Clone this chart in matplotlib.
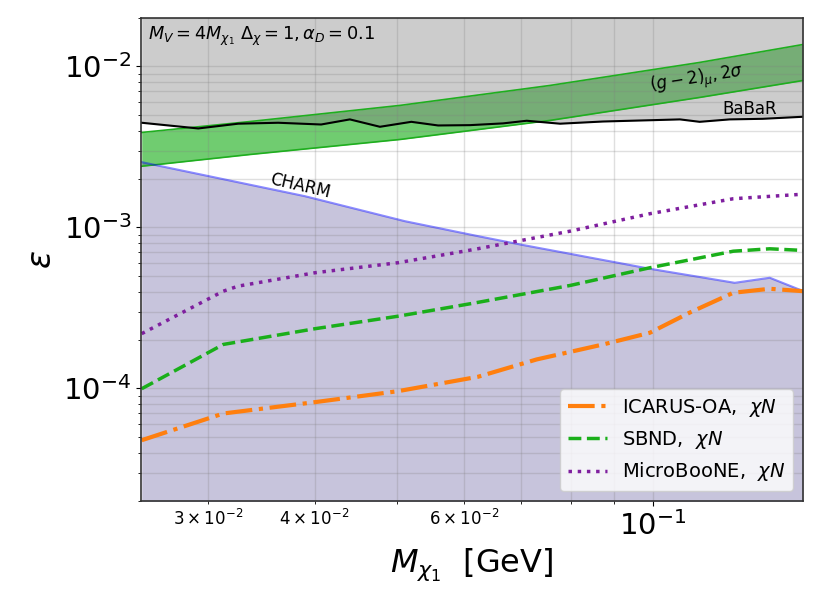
import matplotlib
matplotlib.use('Agg')
import matplotlib.pyplot as plt
import numpy as np

# BaBaR limit (upper excluded region)
babar_x = [0.02505, 0.02919, 0.03252, 0.03624, 0.04071, 0.04400, 0.04773, 0.05196,
           0.05587, 0.06091, 0.06661, 0.07101, 0.07772, 0.08727, 0.1000, 0.1075,
           0.1134, 0.1230, 0.1345, 0.1500]
babar_y = [4.47e-3, 4.12e-3, 4.41e-3, 4.47e-3, 4.36e-3, 4.69e-3, 4.22e-3, 4.53e-3,
           4.30e-3, 4.32e-3, 4.43e-3, 4.60e-3, 4.41e-3, 4.55e-3, 4.64e-3, 4.69e-3,
           4.53e-3, 4.69e-3, 4.73e-3, 4.87e-3]

# (g-2)_mu 2 sigma band
g2_x = [0.02505, 0.03360, 0.05041, 0.07561, 0.1134, 0.1500]
g2_hi = [3.89e-3, 4.55e-3, 5.73e-3, 7.62e-3, 1.059e-2, 1.369e-2]
g2_lo = [2.40e-3, 2.84e-3, 3.52e-3, 4.62e-3, 6.42e-3, 8.18e-3]

# CHARM limit (lower excluded region)
charm_x = [0.02505, 0.03896, 0.05106, 0.06225, 0.06977, 0.0991, 0.1247, 0.1371, 0.1500]
charm_y = [2.544e-3, 1.564e-3, 1.094e-3, 8.83e-4, 7.84e-4, 5.54e-4, 4.53e-4, 4.87e-4, 4.03e-4]

# projected sensitivities
ub_x = [0.02505, 0.03124, 0.03252, 0.04002, 0.05013, 0.06157, 0.07983, 0.0991, 0.1242, 0.1484]
ub_y = [2.19e-4, 4.02e-4, 4.32e-4, 5.23e-4, 6.04e-4, 7.30e-4, 9.48e-4, 1.217e-3, 1.508e-3, 1.603e-3]

sbnd_x = [0.02505, 0.03124, 0.04002, 0.05013, 0.06157, 0.07983, 0.0991, 0.1242, 0.1371, 0.1500]
sbnd_y = [9.96e-5, 1.877e-4, 2.349e-4, 2.81e-4, 3.39e-4, 4.36e-4, 5.62e-4, 7.12e-4, 7.37e-4, 7.20e-4]

icarus_x = [0.02505, 0.03124, 0.04002, 0.05013, 0.06225, 0.07294, 0.08735, 0.0991, 0.1104,
            0.1242, 0.1371, 0.1500]
icarus_y = [4.77e-5, 6.99e-5, 8.22e-5, 9.62e-5, 1.182e-4, 1.514e-4, 1.877e-4, 2.218e-4, 2.96e-4,
            3.93e-4, 4.16e-4, 4.02e-4]

fig = plt.figure(figsize=(8.22, 6.16), dpi=100)
ax = fig.add_subplot(111)
fig.subplots_adjust(left=0.1715, right=0.9769, top=0.9708, bottom=0.1867)

# green (g-2) band
ax.fill_between(g2_x, g2_lo, g2_hi, color='#11aa11', alpha=0.6, lw=0)
ax.plot(g2_x, g2_hi, color='#1fae1f', lw=1.2)
ax.plot(g2_x, g2_lo, color='#1fae1f', lw=1.2)

# BaBaR
ax.fill_between(babar_x, babar_y, 1.0, color='gray', alpha=0.4, lw=0)
ax.plot(babar_x, babar_y, color='black', lw=1.5)

# CHARM
ax.fill_between(charm_x, 1e-6, charm_y, color='darkslateblue', alpha=0.3, lw=0)
ax.plot(charm_x, charm_y, color='blue', alpha=0.45, lw=1.5)

ax.plot(icarus_x, icarus_y, color='#ff7f0e', ls='-.', lw=3, label=r'ICARUS-OA,  $\chi N$')
ax.plot(sbnd_x, sbnd_y, color='#1aaf1a', ls='--', lw=2.5, label=r'SBND,  $\chi N$')
ax.plot(ub_x, ub_y, color='#7f1f9f', ls=':', lw=2.5, label=r'MicroBooNE,  $\chi N$')

ax.set_xscale('log')
ax.set_yscale('log')
ax.set_xlim(0.025, 0.15)
ax.set_ylim(2e-5, 2e-2)

ax.grid(True, which='both', color='gray', alpha=0.25, lw=1)

ax.text(0.011, 0.986, r'$M_V=4M_{\chi_1}\ \Delta_\chi=1, \alpha_D=0.1$', transform=ax.transAxes,
        fontsize=12.8, va='top', ha='left')
ax.text(0.1125, 8.3e-3, r'$(g-2)_\mu, 2\sigma$', fontsize=12, rotation=9, ha='center', va='center')
ax.text(0.1299, 5.41e-3, 'BaBaR', fontsize=12, ha='center', va='center')
ax.text(0.03848, 1.8e-3, 'CHARM', fontsize=12, rotation=-13, ha='center', va='center')

ax.set_xlabel(r'$M_{\chi_1}$  [GeV]', fontsize=23)
ax.set_ylabel(r'$\varepsilon$', fontsize=24)
ax.tick_params(axis='both', which='major', labelsize=21)
ax.tick_params(axis='both', which='minor', labelsize=12)
for s in ax.spines.values():
    s.set_linewidth(1.2)
    s.set_color('#333333')

ax.legend(loc='lower right', fontsize=14)

plt.savefig('out.png', dpi=100)
